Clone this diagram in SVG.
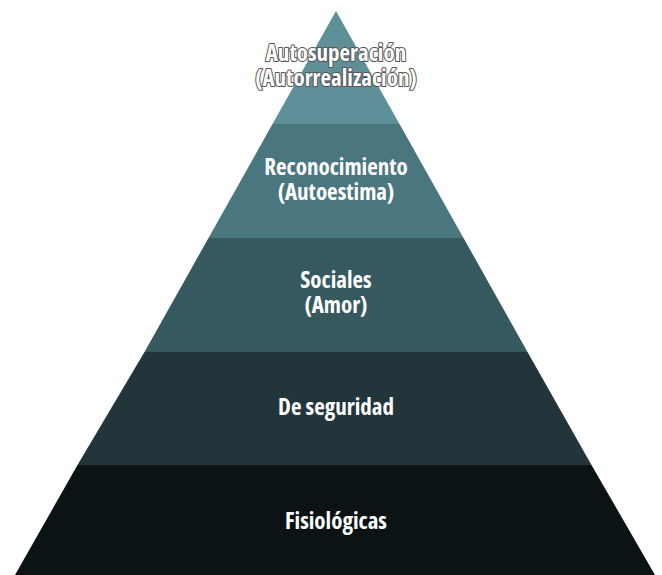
<svg xmlns="http://www.w3.org/2000/svg" width="662" height="575" viewBox="0 0 662 575">
<style>
.t{font-family:"Open Sans","DejaVu Sans Condensed",sans-serif;font-stretch:condensed;font-weight:700;font-size:23px;fill:#ffffff;text-anchor:middle}
.o{stroke:#555555;stroke-width:2px;paint-order:stroke;stroke-linejoin:round}
</style>
<rect width="662" height="575" fill="#ffffff"/>
<g id="level1">
<polygon points="336,11 272.5,124 399.5,124" fill="#5f8f98"/>
<text class="t o" x="336" y="61">Autosuperación</text>
<text class="t o" x="336" y="86">(Autorrealización)</text>
</g>
<g id="level2">
<polygon points="272.5,124 399.5,124 463.5,238 208.5,238" fill="#4a777f"/>
<text class="t" x="336" y="175">Reconocimiento</text>
<text class="t" x="336" y="200">(Autoestima)</text>
</g>
<g id="level3">
<polygon points="208.5,238 463.5,238 527.5,352 144.5,352" fill="#36595f"/>
<text class="t" x="336" y="288">Sociales</text>
<text class="t" x="336" y="313">(Amor)</text>
</g>
<g id="level4">
<polygon points="144.5,352 527.5,352 591.5,465 77.5,465" fill="#22353b"/>
<text class="t" x="336" y="415">De seguridad</text>
</g>
<g id="level5">
<polygon points="77.5,465 591.5,465 655,575 15,575" fill="#0b1315"/>
<text class="t" x="336" y="529">Fisiológicas</text>
</g>
</svg>
